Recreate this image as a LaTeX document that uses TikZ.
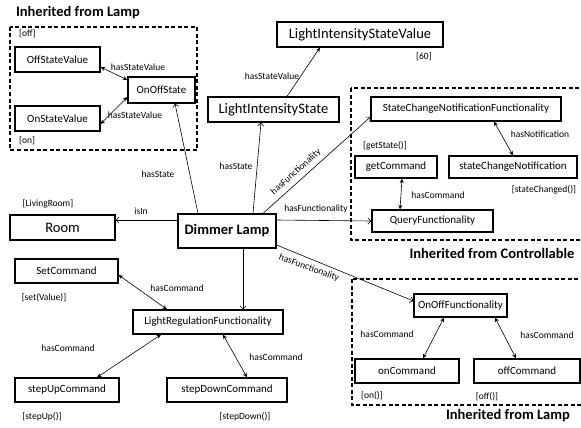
\documentclass[tikz,border=0pt]{standalone}
\usepackage{fontspec}
\setmainfont{Carlito}
\usetikzlibrary{arrows.meta}
\newcommand{\fsz}[1]{\fontsize{#1}{#1}\selectfont}
\tikzset{
  box/.style={draw, line width=1.2pt, inner sep=0pt, font=\fsz{11}},
  bigbox/.style={box, font=\fsz{14.5}},
  lbl/.style={inner sep=0pt, font=\fsz{9.5}},
  ttl/.style={inner sep=0pt, font=\bfseries\fsz{14.5}},
  grp/.style={draw, line width=1.2pt, dash pattern=on 4pt off 2.5pt},
  con/.style={line width=0.6pt, -{Straight Barb[length=3pt,width=6pt]}},
  bicon/.style={line width=0.6pt, {Stealth[length=4.5pt,width=4pt]}-{Stealth[length=4.5pt,width=4pt]}},
  fcon/.style={line width=0.6pt, -{Stealth[length=4.5pt,width=4pt]}}
}
\begin{document}
\begin{tikzpicture}[x=1pt,y=-1pt]
\useasboundingbox (0,0) rectangle (581,428);
% group frames
\draw[grp] (10,27) rectangle (197,150);
\draw[grp] (351,88) rectangle (586,240);
\draw[grp] (352,279) rectangle (586,405);
% titles
\node[ttl] (t1) at (78,13) {Inherited from Lamp};
\node[ttl] (t2) at (492,253) {Inherited from Controllable};
\node[ttl] (t3) at (508,416) {Inherited from Lamp};
% boxes
\node[box, minimum width=67, minimum height=26] (oos) at (161.5,90) {OnOffState};
\node[box, minimum width=85, minimum height=25] (osv) at (57.5,59.5) {OffStateValue};
\node[box, minimum width=85, minimum height=25] (onsv) at (57.5,118.5) {OnStateValue};
\node[bigbox, minimum width=166, minimum height=25] (lisv) at (360,34.5) {LightIntensityStateValue};
\node[bigbox, minimum width=131, minimum height=25] (lis) at (273.5,109.5) {LightIntensityState};
\node[box, minimum width=190, minimum height=24] (scnf) at (466,109) {StateChangeNotificationFunctionality};
\node[box, minimum width=82, minimum height=22] (gc) at (396,167) {getCommand};
\node[box, minimum width=128, minimum height=22] (scn) at (513,167) {stateChangeNotification};
\node[box, minimum width=121, minimum height=22] (qf) at (432.5,221) {QueryFunctionality};
\node[box, minimum width=98, minimum height=34, font=\bfseries\fsz{14.5}] (dl) at (227,231) {Dimmer Lamp};
\node[bigbox, minimum width=105, minimum height=25] (room) at (62.5,227.5) {Room};
\node[box, minimum width=103, minimum height=24] (sc) at (66.5,271) {SetCommand};
\node[box, minimum width=150, minimum height=24] (lrf) at (208,322) {LightRegulationFunctionality};
\node[box, minimum width=104, minimum height=24] (su) at (67,390) {stepUpCommand};
\node[box, minimum width=120, minimum height=24] (sd) at (227,390) {stepDownCommand};
\node[box, minimum width=93, minimum height=23] (oof) at (460.5,305.5) {OnOffFunctionality};
\node[box, minimum width=104, minimum height=24] (onc) at (407,371) {onCommand};
\node[box, minimum width=106, minimum height=24] (offc) at (527,371) {offCommand};
% value labels
\node[lbl, anchor=west] (voff) at (19,34) {[off]};
\node[lbl, anchor=west] (von) at (19,141) {[on]};
\node[lbl, anchor=west] (v60) at (416,57) {[60]};
\node[lbl] (vroom) at (48,204) {[LivingRoom]};
\node[lbl] (vset) at (44,298) {[set(Value)]};
\node[lbl] (vsu) at (42,417) {[stepUp()]};
\node[lbl] (vsd) at (245,417) {[stepDown()]};
\node[lbl] (vgs) at (385,146) {[getState()]};
\node[lbl] (vsc) at (544,190) {[stateChanged()]};
\node[lbl] (vonc) at (372,396) {[on()]};
\node[lbl] (voffc) at (487,397) {[off()]};
% edge labels
\node[lbl] (l1) at (138,67) {hasStateValue};
\node[lbl] (l2) at (135,115) {hasStateValue};
\node[lbl] (l3) at (272,76) {hasStateValue};
\node[lbl] (l4) at (158,174) {hasState};
\node[lbl] (l5) at (236,166) {hasState};
\node[lbl, rotate=42] (l6) at (296,172) {hasFunctionality};
\node[lbl] (l7) at (316,209) {hasFunctionality};
\node[lbl, rotate=-20] (l8) at (309,268) {hasFunctionality};
\node[lbl] (l9) at (141,211) {isIn};
\node[lbl] (l10) at (177,288) {hasCommand};
\node[lbl] (l11) at (68,348) {hasCommand};
\node[lbl] (l12) at (276,357) {hasCommand};
\node[lbl] (l13) at (540,134) {hasNotification};
\node[lbl] (l14) at (438,195) {hasCommand};
\node[lbl] (l15) at (387,334) {hasCommand};
\node[lbl] (l16) at (547,335) {hasCommand};
% connectors
\draw[bicon] ([yshift=-7.5pt]osv.east) -- ([yshift=10pt]oos.west);
\draw[bicon] ([yshift=-5.5pt]onsv.east) -- ([yshift=-7pt]oos.west);
\draw[con] ([xshift=-29pt]dl.north) -- ([xshift=13.5pt]oos.south);
\draw[con] ([xshift=26pt]dl.north) -- ([xshift=-12.5pt]lis.south);
\draw[fcon] ([xshift=13.5pt]lis.north) -- ([xshift=-40pt]lisv.south);
\draw[con] ([xshift=36pt]dl.north) -- ([yshift=-8pt]scnf.west);
\draw[con] ([yshift=11pt]dl.east) -- (qf.west);
\draw[con] ([yshift=-14pt]dl.east) -- ([yshift=4.5pt]oof.west);
\draw[con] ([yshift=11pt]dl.west) -- ([yshift=7.5pt]room.east);
\draw[con] ([xshift=16pt]dl.south) -- ([xshift=35pt]lrf.north);
\draw[bicon] ([yshift=-4pt]sc.east) -- ([xshift=-41pt]lrf.north);
\draw[bicon] ([xshift=-47pt]lrf.south) -- ([xshift=30pt]su.north);
\draw[bicon] ([xshift=15pt]lrf.south) -- ([xshift=20pt]sd.north);
\draw[bicon] ([xshift=28pt]scnf.south) -- (scn.north);
\draw[bicon] ([xshift=6pt]gc.south) -- ([xshift=-32.5pt]qf.north);
\draw[bicon] ([xshift=-16.5pt]oof.south) -- ([xshift=16pt]onc.north);
\draw[bicon] ([xshift=34.5pt]oof.south) -- ([xshift=-11pt]offc.north);
\end{tikzpicture}
\end{document}
